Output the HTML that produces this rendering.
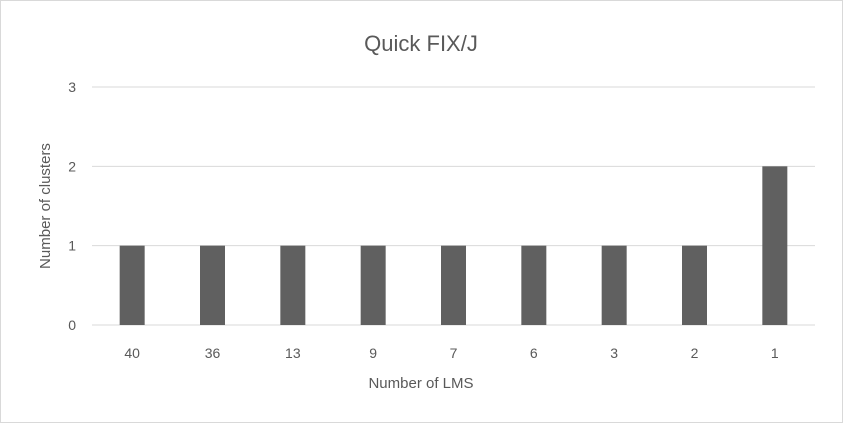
<!DOCTYPE html>
<html><head><meta charset="utf-8"><style>
body{margin:0;background:#fff}
svg{display:block;font-family:"Liberation Sans",Calibri,sans-serif}
</style></head><body>
<svg width="843" height="423">
<rect x="0.5" y="0.5" width="842" height="422" fill="#fff" stroke="#d9d9d9"/>
<text x="421" y="51" text-anchor="middle" font-size="22" fill="#595959">Quick FIX/J</text>
<g id="grid"></g><g id="bars"></g><g id="xl"></g><g id="yl"></g>
<text x="421" y="388" text-anchor="middle" font-size="15" fill="#595959">Number of LMS</text>
<text transform="translate(50,206) rotate(-90)" text-anchor="middle" font-size="15" fill="#595959">Number of clusters</text>
</svg>
<script>
const categories=["40","36","13","9","7","6","3","2","1"];
const values=[1,1,1,1,1,1,1,1,2];
const yTicks=[0,1,2,3];
const x0=92,x1=815,y0=325,y1=87,yMax=3;
const ns="http://www.w3.org/2000/svg";
const band=(x1-x0)/categories.length;
const xs=i=>x0+band*(i+0.5);
const ys=v=>y0-(y0-y1)*v/yMax;
function mk(t,a,p){const e=document.createElementNS(ns,t);for(const k in a)e.setAttribute(k,a[k]);p.appendChild(e);return e;}
const g=document.getElementById('grid'),b=document.getElementById('bars'),xl=document.getElementById('xl'),yl=document.getElementById('yl');
yTicks.forEach(t=>{
 const l=mk('line',{x1:x0,x2:x1,y1:ys(t),y2:ys(t),stroke:'#d9d9d9','stroke-width':1},g);
 
 
 const tx=mk('text',{x:76,y:ys(t)+5,'text-anchor':'end','font-size':14,fill:'#595959'},yl);
 tx.textContent=t;
 
 
});
categories.forEach((c,i)=>{
 const w=25;
 const r=mk('rect',{x:xs(i)-w/2,y:ys(values[i]),width:w,height:ys(0)-ys(values[i]),fill:'#606060'},b);
 
 
 const tx=mk('text',{x:xs(i),y:358,'text-anchor':'middle','font-size':14,fill:'#595959'},xl);
 tx.textContent=c;
 
 
});
</script>
</body></html>
